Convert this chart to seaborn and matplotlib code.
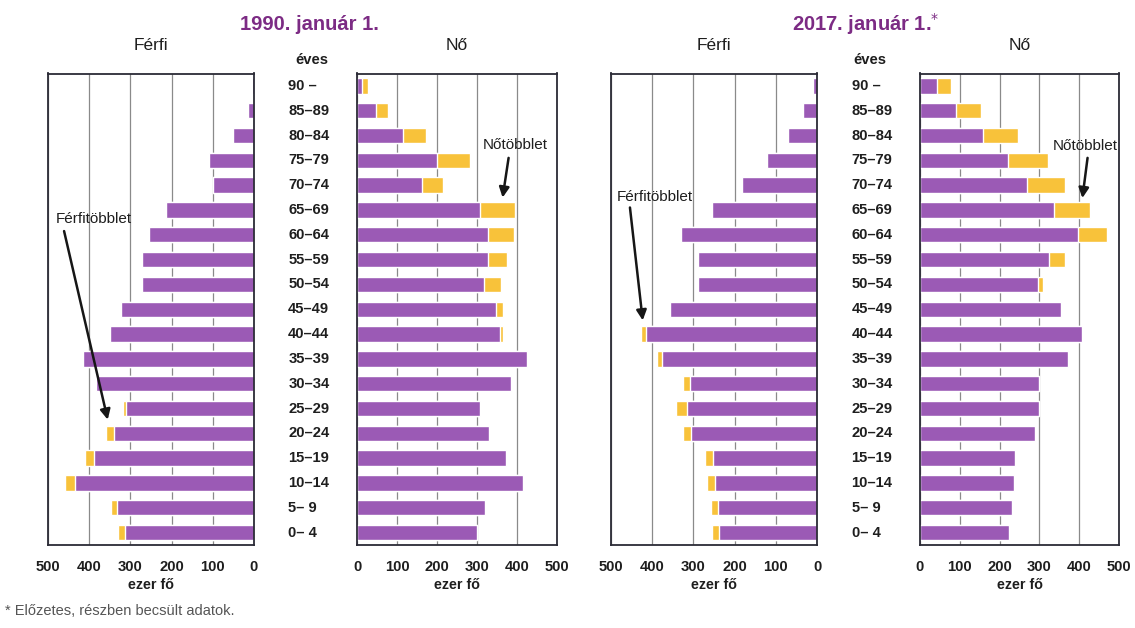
import numpy as np
import pandas as pd
import matplotlib
matplotlib.use("Agg")
import matplotlib.pyplot as plt
import seaborn as sns
from matplotlib import font_manager
from matplotlib.transforms import blended_transform_factory

# ---------------- data (thousand persons) ----------------
ages = ["90 –", "85–89", "80–84", "75–79", "70–74", "65–69", "60–64", "55–59",
        "50–54", "45–49", "40–44", "35–39", "30–34", "25–29", "20–24", "15–19",
        "10–14", "5– 9", "0– 4"]

men1990_common = [4, 14, 52, 109, 100, 213, 254, 273, 273, 322, 350, 416, 384,
                  310, 341, 388, 435, 333, 312]
men1990_surplus = [0, 0, 0, 0, 0, 0, 0, 0, 0, 0, 0, 0, 0,
                   7, 19, 22, 24, 15, 18]
women1990_common = [13, 48, 114, 199, 162, 308, 327, 327, 318, 347, 358, 424, 385,
                    308, 331, 373, 416, 320, 300]
women1990_surplus = [14, 29, 59, 83, 52, 87, 66, 49, 42, 18, 6, 0, 0,
                     0, 0, 0, 0, 0, 0]

men2017_common = [10, 33, 71, 122, 181, 254, 331, 290, 288, 356, 414, 377, 308,
                  316, 307, 253, 248, 241, 237]
men2017_surplus = [0, 0, 0, 0, 0, 0, 0, 0, 0, 0, 14, 12, 17,
                   26, 19, 19, 20, 17, 19]
women2017_common = [42, 91, 158, 222, 270, 337, 398, 323, 297, 354, 406, 373, 299,
                    299, 290, 238, 235, 231, 223]
women2017_surplus = [35, 62, 89, 100, 94, 89, 72, 41, 12, 0, 0, 0, 0,
                     0, 0, 0, 0, 0, 0]

xticks = [0, 100, 200, 300, 400, 500]
titles = ["1990. január 1.", "2017. január 1."]
footnote = "Előzetes, részben becsült adatok."

# ---------------- style ----------------
sns.set_theme(style="white")
names = {f.name for f in font_manager.fontManager.ttflist}
REG = ["Liberation Sans", "DejaVu Sans"]
if "Liberation Sans Narrow" in names:
    NAR = ["Liberation Sans Narrow", "Liberation Sans", "DejaVu Sans"]
    nsc = 1.0
else:
    NAR = REG
    nsc = 0.82
plt.rcParams["font.family"] = REG

PURPLE = "#9b5ab5"
YELLOW = "#f8c23a"
TITLE_C = "#7c2b84"
TXT = "#1e1e1e"

fig = plt.figure(figsize=(11.35, 6.28), dpi=100)
W, H = 1135, 628
top_px, bot_px = 73.5, 545.0


def make_ax(left_px, width_px):
    return fig.add_axes([left_px / W, 1 - bot_px / H, width_px / W, (bot_px - top_px) / H])


axA = make_ax(48, 206)
axB = make_ax(357, 200)
axC = make_ax(611, 206)
axD = make_ax(920, 199)


def panel(ax, common, surplus, men, header):
    common = np.array(common, dtype=float)
    total = common + np.array(surplus, dtype=float)
    df = pd.DataFrame({"age": ages, "total": total, "common": common})
    sns.barplot(data=df, x="total", y="age", color=YELLOW, saturation=1,
                width=0.62, errorbar=None, ax=ax, orient="h")
    sns.barplot(data=df, x="common", y="age", color=PURPLE, saturation=1,
                width=0.62, errorbar=None, ax=ax, orient="h")
    ax.set_ylim(len(ages) - 0.5, -0.5)
    ax.set_xlim((500, 0) if men else (0, 500))
    ax.set_axisbelow(True)
    ax.grid(False)
    ax.xaxis.grid(True, color="#8a8a8a", lw=0.9)
    ax.set_yticks([])
    ax.set_ylabel("")
    ax.set_xticks(xticks)
    ax.set_xticklabels([str(t) for t in xticks], family=NAR, fontsize=13 * nsc,
                       color=TXT, fontweight="bold")
    ax.tick_params(axis="x", length=0, pad=11)
    ax.set_xlabel("ezer fő", family=NAR, fontsize=12.5 * nsc, color=TXT,
                  fontweight="bold", labelpad=3)
    for s in ax.spines.values():
        s.set_visible(True)
        s.set_color("#2b2b36")
        s.set_linewidth(1.3)
    ax.text(0.5, 1.06, header, transform=ax.transAxes, ha="center", va="center",
            fontsize=12.5, color=TXT)


panel(axA, men1990_common, men1990_surplus, True, "Férfi")
panel(axB, women1990_common, women1990_surplus, False, "Nő")
panel(axC, men2017_common, men2017_surplus, True, "Férfi")
panel(axD, women2017_common, women2017_surplus, False, "Nő")

# age labels between the panels
for ax in (axB, axD):
    tr = blended_transform_factory(ax.transAxes, ax.transData)
    for i, a in enumerate(ages):
        ax.text(-0.344, i, a, transform=tr, ha="left", va="center",
                family=NAR, fontsize=13 * nsc, fontweight="bold", color=TXT)

fig.text(312 / W, 1 - 60 / H, "éves", ha="center", va="center", family=NAR,
         fontsize=13 * nsc, fontweight="bold", color=TXT)
fig.text(870 / W, 1 - 60 / H, "éves", ha="center", va="center", family=NAR,
         fontsize=13 * nsc, fontweight="bold", color=TXT)

# titles
fig.text(309 / W, 1 - 24 / H, titles[0], ha="center", va="center", fontsize=14.5,
         fontweight="bold", color=TITLE_C)
fig.text(866 / W, 1 - 24 / H, titles[1] + r"$^{*}$", ha="center", va="center",
         fontsize=14.5, fontweight="bold", color=TITLE_C)

# annotations
arrow = dict(arrowstyle="-|>", color="#161616", lw=1.8, mutation_scale=15,
             shrinkA=0, shrinkB=0)
ann_fs = 11
axA.text(481, 5.35, "Férfitöbblet", ha="left", va="center", fontsize=ann_fs, color=TXT)
axA.annotate("", xy=(355, 13.45), xytext=(461, 5.85), arrowprops=arrow)
axB.text(314, 2.38, "Nőtöbblet", ha="left", va="center", fontsize=ann_fs, color=TXT)
axB.annotate("", xy=(364, 4.5), xytext=(379, 2.9), arrowprops=arrow)
axC.text(486, 4.48, "Férfitöbblet", ha="left", va="center", fontsize=ann_fs, color=TXT)
axC.annotate("", xy=(423, 9.45), xytext=(454, 4.9), arrowprops=arrow)
axD.text(333, 2.42, "Nőtöbblet", ha="left", va="center", fontsize=ann_fs, color=TXT)
axD.annotate("", xy=(408, 4.52), xytext=(421, 2.9), arrowprops=arrow)

# footnote
fig.text(5 / W, 1 - 611 / H, "* " + footnote, ha="left", va="center", fontsize=10.5,
         color="#555555")

fig.savefig("out.png", dpi=100)
